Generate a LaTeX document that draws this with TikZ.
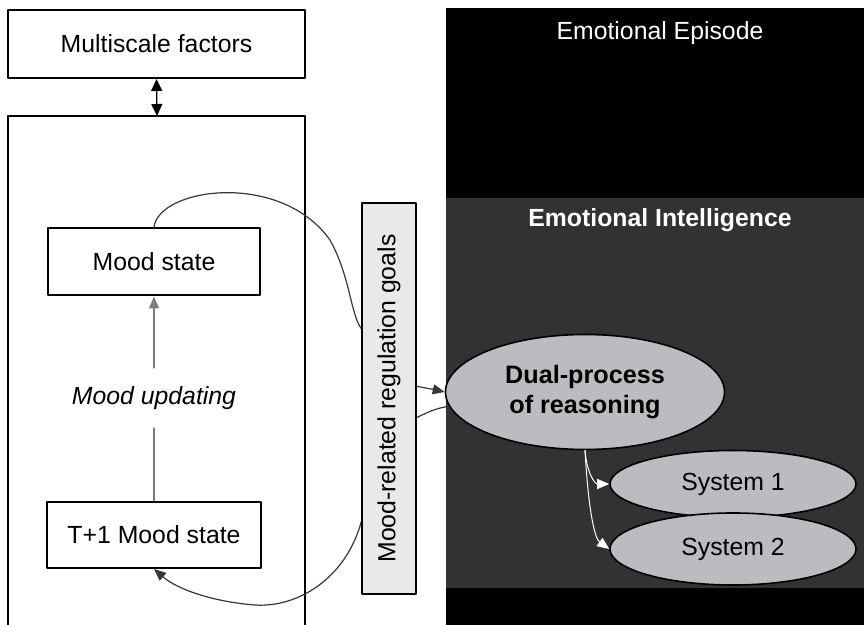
\documentclass[tikz,border=0pt]{standalone}
\usepackage{fontspec}
\setmainfont{Liberation Sans}
\usetikzlibrary{arrows.meta,shapes.geometric}
\definecolor{eibg}{RGB}{50,50,53}
\definecolor{ellipsefill}{RGB}{186,188,191}
\definecolor{goalfill}{RGB}{233,233,233}
\definecolor{linkgray}{RGB}{55,55,55}
\definecolor{updgray}{RGB}{125,125,125}
\tikzset{
  statebox/.style={draw,line width=1pt,fill=white,minimum width=106pt,minimum height=33.5pt,inner sep=0pt},
  procell/.style={ellipse,draw,line width=0.8pt,fill=ellipsefill,inner sep=0pt},
  link/.style={linkgray,line width=0.6pt},
  tip/.style={-{Triangle[length=6pt,width=5pt]}},
  whitetip/.style={white,line width=0.5pt,-{Triangle[length=6pt,width=5pt,fill=white]}}
}
\begin{document}
\begin{tikzpicture}[x=0.5pt,y=-0.5pt,line cap=round,line join=round,font=\fontsize{12.4}{15}\selectfont]
  \useasboundingbox (0,0) rectangle (864,625);

  % Emotional episode and emotional intelligence panels
  \fill[black] (446,8) rectangle (864,625);
  \fill[eibg] (446,198) rectangle (864,588);
  \node[white] (episode) at (660,33) {Emotional Episode};
  \node[white,font=\fontsize{12.4}{15}\selectfont\bfseries] (eilabel) at (660,220) {Emotional Intelligence};

  % Multiscale factors and the mood frame
  \node[statebox,minimum width=148.5pt,minimum height=34pt] (multi) at (156.5,44) {Multiscale factors};
  \draw[line width=0.8pt] (8,625) -- (8,116) -- (305,116) -- (305,625);
  \coordinate (frametop) at (157,116);
  \draw[line width=0.6pt,{Triangle[length=6pt,width=5.5pt]}-{Triangle[length=6pt,width=5.5pt]}] (multi.south) -- (frametop);

  % Mood states and updating
  \node[statebox] (mood) at (154,262) {Mood state};
  \node[statebox,minimum width=107pt,minimum height=33pt] (next) at (154,535) {T+1 Mood state};
  \node[font=\fontsize{12.4}{15}\selectfont\itshape,inner ysep=9pt] (upd) at (154,398) {Mood updating};
  \draw[updgray,line width=0.6pt] (next.north) -- (upd.south);
  \draw[updgray,line width=0.6pt,tip] (upd.north) -- (mood.south);

  % Reasoning ellipses
  \node[procell,minimum width=139.5pt,minimum height=57.5pt,align=center,font=\fontsize{12.6}{15}\selectfont\bfseries] (dual) at (585,392) {Dual-process\\of reasoning};
  \node[procell,minimum width=123pt,minimum height=33.5pt] (sys1) at (733,484) {System 1};
  \node[procell,minimum width=123pt,minimum height=36pt] (sys2) at (733,549) {System 2};
  \draw[whitetip] (dual.south) .. controls (587,474) and (595,484) .. (sys1.west);
  \draw[whitetip] (dual.south) .. controls (588,505) and (594,538) .. (sys2.west);

  % Links through the regulation goals (drawn behind the bar)
  \draw[link,tip] (mood.north) .. controls (158,188) and (280,170) .. (330,240)
    .. controls (352,280) and (350,318) .. (364,332) -- (415,386)
    .. controls (426,388) and (436,390) .. (dual.west);
  \draw[link,tip] (dual.186) .. controls (436,408) and (426,413) .. (416,418) -- (364,510)
    .. controls (352,575) and (300,608) .. (255,605)
    .. controls (215,602) and (178,590) .. (next.south);
  \node[draw,line width=1pt,fill=goalfill,rotate=90,minimum width=195.5pt,minimum height=27pt,inner sep=0pt] (goals) at (389,398.5) {Mood-related regulation goals};
\end{tikzpicture}
\end{document}
